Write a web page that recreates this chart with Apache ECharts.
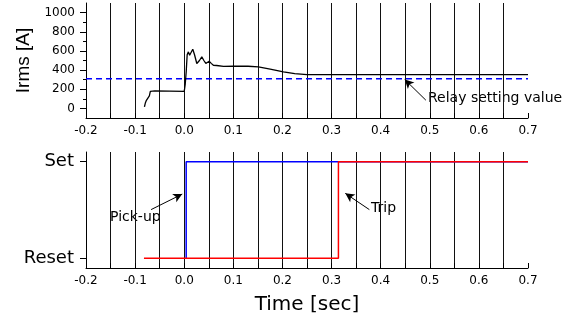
<!DOCTYPE html>
<html>
<head>
<meta charset="utf-8">
<script src="https://cdn.jsdelivr.net/npm/echarts@6/dist/echarts.min.js"></script>
<style>
  html, body { margin: 0; padding: 0; background: #fff; }
  #chart { width: 580px; height: 320px; }
</style>
</head>
<body>
<div id="chart"></div>
<script>
// top panel: Irms [A] against time [sec]
const irmsTime = [-0.081, -0.079, -0.077, -0.074, -0.071, -0.069, -0.06, -0.03, 0.0, 0.002, 0.004, 0.006,
  0.0085, 0.011, 0.0134, 0.0174, 0.021, 0.0256, 0.031, 0.0358, 0.040, 0.044, 0.0475, 0.0507, 0.055,
  0.0594, 0.063, 0.066, 0.07, 0.08, 0.1, 0.13, 0.151, 0.175, 0.202, 0.225, 0.25, 0.7];
const irmsValue = [15, 60, 85, 100, 130, 178, 182, 180, 178, 250, 380, 560,
  590, 555, 540, 617, 560, 469, 500, 538, 500, 469, 480, 493, 470,
  450, 458, 448, 445, 438, 440, 440, 433, 410, 381, 362, 352, 352];
const relaySetting = 310;
const irmsMajorTicks = [0, 200, 400, 600, 800, 1000];
const irmsMinorTicks = [100, 300, 500, 700, 900];

// bottom panel: relay state
const pickupTime = [0.004, 0.004, 0.7];
const pickupState = [0, 1, 1];
const tripTime = [-0.082, 0.314, 0.314, 0.7];
const tripState = [0, 0, 1, 1];
const stateTicks = [0, 1];
const stateNames = ['Reset', 'Set'];

const FONT = 'DejaVu Sans';
const zip = (xs, ys) => xs.map((x, i) => [x, ys[i]]);

const chart = echarts.init(document.getElementById('chart'), null, { renderer: 'canvas' });

// x axis shared look for both panels
const timeAxis = (gridIndex, extra) => Object.assign({
  gridIndex,
  type: 'value',
  min: -0.2,
  max: 0.7,
  interval: 0.05,
  axisLine: { onZero: false, lineStyle: { color: '#000', width: 1 } },
  axisTick: { inside: true, length: 5, lineStyle: { color: '#000' } },
  axisLabel: {
    color: '#000', fontSize: 12, fontFamily: FONT, margin: 7,
    formatter: v => Math.abs(v * 10 - Math.round(v * 10)) < 1e-6 ? (Math.round(v * 10) / 10).toFixed(1) : ''
  },
  splitLine: { show: true, showMinLine: false, showMaxLine: false, lineStyle: { color: '#111', width: 1, type: 'solid' } }
}, extra);

const option = {
  animation: false,
  backgroundColor: '#fff',
  grid: [
    { left: 86, right: 52, top: 3, height: 115 },
    { left: 86, right: 52, top: 152, height: 116 }
  ],
  xAxis: [
    timeAxis(0),
    timeAxis(1, {
      name: 'Time [sec]',
      nameLocation: 'middle',
      nameGap: 27,
      nameTextStyle: { color: '#000', fontSize: 20, fontFamily: FONT }
    })
  ],
  yAxis: [
    {
      gridIndex: 0, type: 'value', min: -100, max: 1100,
      name: 'Irms [A]', nameLocation: 'middle', nameGap: 52,
      nameTextStyle: { color: '#000', fontSize: 19, fontFamily: 'Liberation Sans' },
      axisLine: { show: true, onZero: false, lineStyle: { color: '#000' } },
      axisTick: { show: true, customValues: irmsMajorTicks, length: 6, lineStyle: { color: '#000' } },
      axisLabel: { customValues: irmsMajorTicks, color: '#000', fontSize: 12, fontFamily: FONT, margin: 11, formatter: v => String(v) },
      splitLine: { show: false }
    },
    {
      gridIndex: 0, type: 'value', min: -100, max: 1100, position: 'left',
      axisLine: { show: false, onZero: false },
      axisTick: { show: true, customValues: irmsMinorTicks, length: 3, lineStyle: { color: '#000' } },
      axisLabel: { show: false },
      splitLine: { show: false }
    },
    {
      gridIndex: 1, type: 'value', min: -0.1, max: 1.1,
      axisLine: { show: true, onZero: false, lineStyle: { color: '#000' } },
      axisTick: { show: true, customValues: stateTicks, length: 6, lineStyle: { color: '#000' } },
      axisLabel: {
        customValues: stateTicks, color: '#000', fontSize: 18, fontFamily: FONT, margin: 12,
        formatter: v => stateNames[Math.round(v)]
      },
      splitLine: { show: false }
    }
  ],
  series: [
    {
      name: 'Relay setting value', type: 'line', xAxisIndex: 0, yAxisIndex: 0,
      data: [[-0.2, relaySetting], [0.7, relaySetting]],
      showSymbol: false, silent: true,
      lineStyle: { color: '#0000ff', width: 1.5, type: [6, 4] },
      markLine: {
        silent: true, symbol: ['none', 'arrow'], symbolSize: [7, 9],
        lineStyle: { color: '#000', width: 1, type: 'solid' },
        label: { show: false },
        data: [[{ coord: [0.492, 86] }, { coord: [0.449, 302] }]]
      }
    },
    {
      name: 'Irms', type: 'line', xAxisIndex: 0, yAxisIndex: 0,
      data: zip(irmsTime, irmsValue),
      showSymbol: false, silent: true,
      lineStyle: { color: '#000', width: 1.3 }
    },
    {
      name: 'Pick-up', type: 'line', xAxisIndex: 1, yAxisIndex: 2,
      data: zip(pickupTime, pickupState),
      showSymbol: false, silent: true,
      lineStyle: { color: '#0000ff', width: 1.5 },
      markLine: {
        silent: true, symbol: ['none', 'arrow'], symbolSize: [7, 9],
        lineStyle: { color: '#000', width: 1, type: 'solid' },
        label: { show: false },
        data: [
          [{ coord: [-0.0675, 0.504] }, { coord: [-0.004, 0.665] }],
          [{ coord: [0.377, 0.504] }, { coord: [0.328, 0.672] }]
        ]
      }
    },
    {
      name: 'Trip', type: 'line', xAxisIndex: 1, yAxisIndex: 2,
      data: zip(tripTime, tripState),
      showSymbol: false, silent: true,
      lineStyle: { color: '#ff0000', width: 1.5 }
    }
  ],
  graphic: [
    { type: 'text', left: 428, top: 91, style: { text: 'Relay setting value', fontSize: 14, fontFamily: FONT, fill: '#000' } },
    { type: 'text', left: 110, top: 210, style: { text: 'Pick-up', fontSize: 14, fontFamily: FONT, fill: '#000' } },
    { type: 'text', left: 371, top: 201, style: { text: 'Trip', fontSize: 14, fontFamily: FONT, fill: '#000' } }
  ]
};

chart.setOption(option);
</script>
</body>
</html>
